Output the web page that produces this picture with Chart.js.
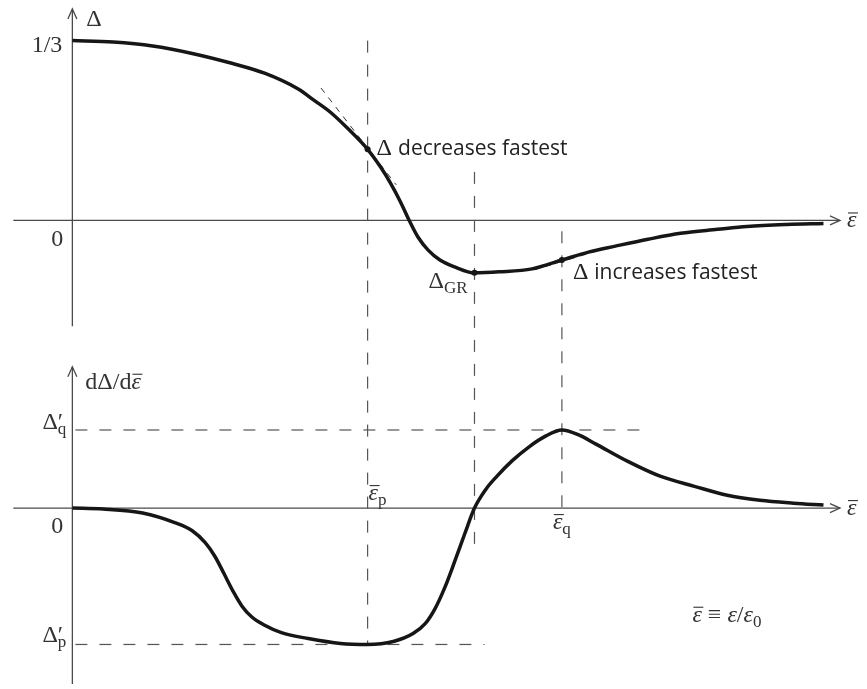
<!DOCTYPE html>
<html lang="en">
<head>
    <meta charset="UTF-8">
    <title>Δ and dΔ/dε̄</title>
    <script src="https://cdn.jsdelivr.net/npm/chart.js"></script>
    <style>
        html, body { margin: 0; padding: 0; background: #fff; }
        #wrap { position: relative; width: 867px; height: 689px; }
    </style>
</head>
<body>
    <div id="wrap"><canvas id="chart"></canvas></div>

    <script>
        // upper panel: Delta against eps-bar
        const epsTop = [0, 0.138, 0.272, 0.406, 0.540, 0.651, 0.765, 0.819, 0.876, 0.933, 1.000, 1.044, 1.077, 1.111,
            1.141, 1.171, 1.205, 1.245, 1.295, 1.362, 1.446, 1.557, 1.658, 1.748, 1.839, 1.950, 2.060, 2.185, 2.285,
            2.420, 2.544];
        const deltaTop = [0.3333, 0.3306, 0.3233, 0.3095, 0.2912, 0.2729, 0.2436, 0.2225, 0.1996, 0.1703, 0.1319,
            0.0989, 0.0696, 0.0348, 0, -0.0311, -0.0549, -0.0733, -0.0861, -0.0971, -0.0952, -0.0897, -0.0733,
            -0.0586, -0.0476, -0.0348, -0.0238, -0.0165, -0.0110, -0.0073, -0.0055];

        // lower panel: dDelta/d eps-bar
        const epsBot = [0, 0.104, 0.238, 0.349, 0.406, 0.450, 0.483, 0.513, 0.544, 0.574, 0.607, 0.648, 0.708, 0.799,
            0.909, 1.000, 1.087, 1.154, 1.195, 1.228, 1.262, 1.295, 1.329, 1.362, 1.399, 1.436, 1.490, 1.547, 1.604,
            1.658, 1.715, 1.772, 1.883, 1.993, 2.107, 2.218, 2.329, 2.443, 2.544];
        const dDelta = [0, -0.005, -0.025, -0.075, -0.115, -0.175, -0.245, -0.33, -0.42, -0.495, -0.55, -0.59, -0.63,
            -0.66, -0.685, -0.69, -0.675, -0.635, -0.585, -0.51, -0.4, -0.27, -0.13, 0, 0.092, 0.158, 0.24, 0.31,
            0.365, 0.395, 0.37, 0.325, 0.235, 0.16, 0.11, 0.065, 0.04, 0.025, 0.015];

        // marked points: eps_p (fastest decrease), eps_GR (minimum), eps_q (fastest increase)
        const epsMarks = [1.000, 1.362, 1.658];
        const deltaMarks = [0.1319, -0.0971, -0.0733];
        const deltaPrimeP = -0.69;
        const deltaPrimeQ = 0.395;

        // tangents at the two marked inflection points
        const tanDecEps = [0.842, 1.097];
        const tanDecDelta = [0.2454, 0.0659];
        const tanIncEps = [1.564, 1.775];
        const tanIncDelta = [-0.0916, -0.0568];

        const pts = (xs, ys) => xs.map((x, i) => ({ x: x, y: ys[i] }));

        const MATH = '"Liberation Serif", serif';
        const SANS = '"Open Sans", sans-serif';
        const AXIS = '#4a4a4a';
        const INK = '#161616';

        function fontFor(kind, size) {
            if (kind === 'i' || kind === 'bar') return 'italic ' + size + 'px ' + MATH;
            if (kind === 'sans') return size + 'px ' + SANS;
            return size + 'px ' + MATH;
        }

        // runs: [text, kind, level, noAdvance]  level: 0 base, -1 sub
        function drawRuns(ctx, x, y, runs, align) {
            const pieces = runs.map(r => {
                const lvl = r[2] || 0;
                const size = lvl ? 17 : (r[1] === 'sans' ? 21 : 24);
                ctx.font = fontFor(r[1], size);
                return { t: r[0], kind: r[1], lvl: lvl, size: size, w: ctx.measureText(r[0]).width, stay: !!r[3] };
            });
            const total = pieces.reduce((s, p) => s + (p.stay ? 0 : p.w), 0);
            let cx = align === 'right' ? x - total : align === 'center' ? x - total / 2 : x;
            pieces.forEach(p => {
                ctx.font = fontFor(p.kind, p.size);
                const dy = p.lvl < 0 ? 5 : 0;
                ctx.fillText(p.t, cx, y + dy);
                if (p.kind === 'bar') {
                    ctx.save();
                    ctx.lineWidth = 1.1;
                    ctx.strokeStyle = ctx.fillStyle;
                    ctx.beginPath();
                    ctx.moveTo(cx + 1, y + dy - 14.5);
                    ctx.lineTo(cx + p.w + 1.5, y + dy - 14.5);
                    ctx.stroke();
                    ctx.restore();
                }
                if (!p.stay) cx += p.w;
            });
        }

        const sketchPlugin = {
            id: 'sketch',
            beforeDatasetsDraw(chart) {
                const { ctx, scales } = chart;
                const X = scales.x, T = scales.yTop, B = scales.yBot;
                ctx.save();

                // axes with open arrow heads
                ctx.strokeStyle = AXIS;
                ctx.lineWidth = 1.3;
                const arrow = (x0, y0, x1, y1) => {
                    ctx.beginPath();
                    ctx.moveTo(x0, y0);
                    ctx.lineTo(x1, y1);
                    ctx.stroke();
                    const a = Math.atan2(y1 - y0, x1 - x0);
                    ctx.beginPath();
                    ctx.moveTo(x1 - 10 * Math.cos(a) + 4.5 * Math.sin(a), y1 - 10 * Math.sin(a) - 4.5 * Math.cos(a));
                    ctx.lineTo(x1, y1);
                    ctx.lineTo(x1 - 10 * Math.cos(a) - 4.5 * Math.sin(a), y1 - 10 * Math.sin(a) + 4.5 * Math.cos(a));
                    ctx.stroke();
                };
                const x0 = X.getPixelForValue(0);
                arrow(X.getPixelForValue(-0.2), T.getPixelForValue(0), X.getPixelForValue(2.6), T.getPixelForValue(0));
                arrow(x0, T.getPixelForValue(-0.196), x0, T.getPixelForValue(0.392));
                arrow(X.getPixelForValue(-0.2), B.getPixelForValue(0), X.getPixelForValue(2.6), B.getPixelForValue(0));
                arrow(x0, B.getPixelForValue(-0.89), x0, B.getPixelForValue(0.715));

                // dashed guide lines
                ctx.strokeStyle = '#555';
                ctx.lineWidth = 1.2;
                ctx.setLineDash([12, 12]);
                const seg = (xa, ya, xb, yb) => {
                    ctx.beginPath();
                    ctx.moveTo(xa, ya);
                    ctx.lineTo(xb, yb);
                    ctx.stroke();
                };
                seg(X.getPixelForValue(epsMarks[0]), T.getPixelForValue(1 / 3), X.getPixelForValue(epsMarks[0]), B.getPixelForValue(deltaPrimeP));
                seg(X.getPixelForValue(epsMarks[1]), T.getPixelForValue(0.09), X.getPixelForValue(epsMarks[1]), B.getPixelForValue(-0.235));
                seg(X.getPixelForValue(epsMarks[2]), T.getPixelForValue(-0.02), X.getPixelForValue(epsMarks[2]), B.getPixelForValue(0));
                seg(x0 + 3, B.getPixelForValue(deltaPrimeQ), X.getPixelForValue(1.926), B.getPixelForValue(deltaPrimeQ));
                seg(x0 + 3, B.getPixelForValue(deltaPrimeP), X.getPixelForValue(1.396), B.getPixelForValue(deltaPrimeP));
                ctx.restore();
            },
            afterDatasetsDraw(chart) {
                const { ctx, scales } = chart;
                const X = scales.x, T = scales.yTop, B = scales.yBot;
                const x0 = X.getPixelForValue(0);
                ctx.save();
                ctx.textBaseline = 'alphabetic';
                ctx.fillStyle = '#333';

                // upper panel
                drawRuns(ctx, x0 + 14, T.getPixelForValue(0.392) + 17, [['Δ', 'n']]);
                drawRuns(ctx, x0 - 10, T.getPixelForValue(1 / 3) + 11, [['1/3', 'n']], 'right');
                drawRuns(ctx, x0 - 9, T.getPixelForValue(0) + 26, [['0', 'n']], 'right');
                drawRuns(ctx, X.getPixelForValue(2.6) + 7, T.getPixelForValue(0) + 7, [['ε', 'bar']]);
                drawRuns(ctx, X.getPixelForValue(epsMarks[1]) - 7, T.getPixelForValue(deltaMarks[1]) + 15,
                    [['Δ', 'n'], ['GR', 'n', -1]], 'right');
                ctx.fillStyle = '#222';
                drawRuns(ctx, X.getPixelForValue(epsMarks[0]) + 9, T.getPixelForValue(deltaMarks[0]) + 6,
                    [['Δ ', 'n'], ['decreases fastest', 'sans']]);
                drawRuns(ctx, X.getPixelForValue(epsMarks[2]) + 11, T.getPixelForValue(deltaMarks[2]) + 19,
                    [['Δ ', 'n'], ['increases fastest', 'sans']]);

                // lower panel
                ctx.fillStyle = '#333';
                drawRuns(ctx, x0 + 13, B.getPixelForValue(0.715) + 22,
                    [['dΔ/d', 'n'], ['ε', 'bar']]);
                drawRuns(ctx, x0 - 6, B.getPixelForValue(deltaPrimeQ) - 1,
                    [['Δ', 'n'], ['′', 'n', 0, true], ['q', 'n', -1]], 'right');
                drawRuns(ctx, x0 - 6, B.getPixelForValue(deltaPrimeP) - 2,
                    [['Δ', 'n'], ['′', 'n', 0, true], ['p', 'n', -1]], 'right');
                drawRuns(ctx, x0 - 9, B.getPixelForValue(0) + 25, [['0', 'n']], 'right');
                drawRuns(ctx, X.getPixelForValue(2.6) + 7, B.getPixelForValue(0) + 7, [['ε', 'bar']]);
                drawRuns(ctx, X.getPixelForValue(epsMarks[0]) + 1, B.getPixelForValue(0) - 8,
                    [['ε', 'bar'], ['p', 'n', -1]]);
                drawRuns(ctx, X.getPixelForValue(epsMarks[2]) - 9, B.getPixelForValue(0) + 21,
                    [['ε', 'bar'], ['q', 'n', -1]]);
                drawRuns(ctx, X.getPixelForValue(2.1), B.getPixelForValue(-0.575),
                    [['ε', 'bar'], [' ≡ ', 'n'], ['ε', 'i'], ['/', 'n'], ['ε', 'i'], ['0', 'n', -1]]);
                ctx.restore();
            }
        };

        const curveStyle = {
            borderColor: INK,
            borderWidth: 3.5,
            pointRadius: 0,
            cubicInterpolationMode: 'monotone',
            fill: false
        };
        const tangentStyle = {
            borderColor: '#333',
            borderWidth: 1,
            borderDash: [6, 6],
            pointRadius: 0,
            fill: false
        };

        const ctx = document.getElementById('chart').getContext('2d');
        const sketch = new Chart(ctx, {
            type: 'line',
            data: {
                datasets: [
                    Object.assign({ label: 'Δ', data: pts(epsTop, deltaTop), yAxisID: 'yTop' }, curveStyle),
                    Object.assign({ label: 'dΔ/dε', data: pts(epsBot, dDelta), yAxisID: 'yBot' }, curveStyle),
                    Object.assign({ label: 'tangent p', data: pts(tanDecEps, tanDecDelta), yAxisID: 'yTop' }, tangentStyle),
                    Object.assign({ label: 'tangent q', data: pts(tanIncEps, tanIncDelta), yAxisID: 'yTop' }, tangentStyle),
                    {
                        label: 'marks',
                        data: pts(epsMarks, deltaMarks),
                        yAxisID: 'yTop',
                        showLine: false,
                        pointRadius: 3,
                        pointBackgroundColor: INK,
                        pointBorderColor: INK,
                        pointBorderWidth: 0
                    }
                ]
            },
            options: {
                responsive: true,
                maintainAspectRatio: false,
                animation: false,
                layout: { padding: 0 },
                plugins: { legend: { display: false }, tooltip: { enabled: false } },
                scales: {
                    x: { type: 'linear', min: -0.23154, max: 2.67786, display: false },
                    yTop: { type: 'linear', min: -0.86081, max: 0.40110, display: false },
                    yBot: { type: 'linear', min: -0.895, max: 2.55, display: false }
                }
            },
            plugins: [sketchPlugin]
        });
    </script>
</body>
</html>
